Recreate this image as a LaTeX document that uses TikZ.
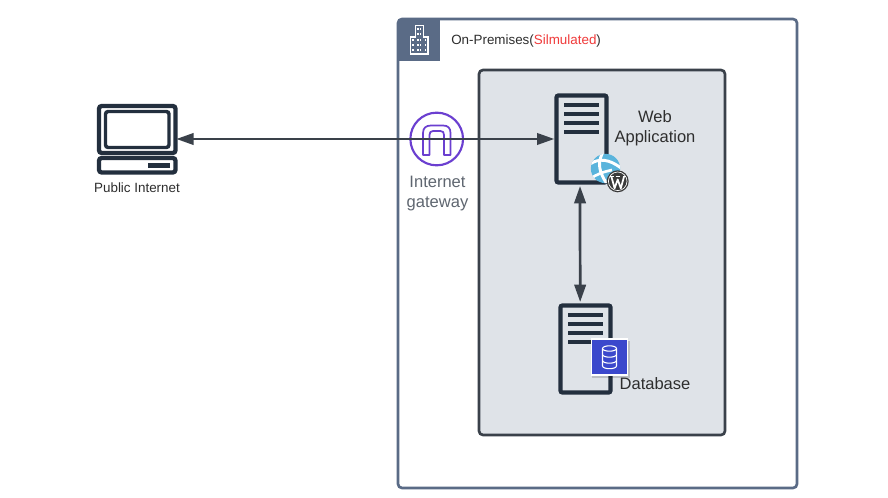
\documentclass[tikz,border=0pt]{standalone}
\usepackage{fontspec}
\setmainfont{Liberation Sans}
\usetikzlibrary{arrows.meta,calc}
\definecolor{frame}{HTML}{5A6B86}
\definecolor{panel}{HTML}{DFE3E8}
\definecolor{edge}{HTML}{3A414A}
\definecolor{ink}{HTML}{232F3E}
\definecolor{gw}{HTML}{6B3FD0}
\definecolor{graytxt}{HTML}{5F6670}
\definecolor{dbblue}{HTML}{3B48CC}
\definecolor{globe}{HTML}{5AB4DC}
\definecolor{wp}{HTML}{3A3A3A}
\definecolor{alert}{HTML}{F03A3A}
\tikzset{
  x=0.75pt,y=-0.75pt,
  outerbox/.style={draw=frame,line width=2pt,rounded corners=3pt,minimum width=299.25pt,minimum height=351.75pt,inner sep=0pt,fill=white},
  panelbox/.style={draw=edge,line width=2pt,rounded corners=3pt,fill=panel,minimum width=184.5pt,minimum height=273.75pt,inner sep=0pt},
  serverbox/.style={draw=ink,line width=3.2pt,rounded corners=1.5pt,minimum width=37.5pt,minimum height=65.25pt,inner sep=0pt},
  srvline/.style={draw=ink,line width=3pt},
  pcpart/.style={draw=ink,line width=3.2pt,rounded corners=2pt},
  link/.style={draw=edge,line width=2.05pt,{Triangle[length=13pt,width=8.5pt]}-{Triangle[length=13pt,width=8.5pt]}},
  lbl/.style={inner sep=0pt,text=black!82,align=center},
}
\begin{document}
\begin{tikzpicture}
\useasboundingbox[fill=white] (0,0) rectangle (888,498);
% frames
\node[outerbox] (outer) at (597.5,253.5) {};
\fill[frame,rounded corners=3pt] (398,45) -- (398,19) -- (420,19) -- (420,45) -- cycle;
\fill[frame] (410,19) rectangle (440,61);
\fill[frame] (398,35) rectangle (412,61);
\node[panelbox] (panel) at (602,252.5) {};
% building icon
\draw[white,line width=0.9pt] (410.7,54) -- (410.7,37) -- (415.3,37) -- (415.3,25.5) -- (423.3,25.5) -- (423.3,37) -- (428,37) -- (428,54) -- cycle;
\foreach \yy in {29,34,40.3,45.3,50.3}{\draw[white,line width=1.1pt] (418.2,\yy-1.2) -- (418.2,\yy+1.2) (420.4,\yy-1.2) -- (420.4,\yy+1.2);}
\foreach \yy in {40.3,45.3,50.3}{\draw[white,line width=1.1pt] (413.2,\yy-1.2) -- (413.2,\yy+1.2) (425.4,\yy-1.2) -- (425.4,\yy+1.2);}
\node[lbl,anchor=west,font=\fontsize{10.05pt}{12pt}\selectfont] (title) at (451,41) {On-Premises({\color{alert}Silmulated})};
% computer
\node[minimum width=58.5pt,minimum height=51pt,inner sep=0pt] (pc) at (137,139) {};
\draw[pcpart] (99,106) rectangle (175.5,153);
\draw[pcpart,line width=2.6pt] (105.5,111.5) rectangle (169,147.5);
\draw[pcpart] (99,158) rectangle (175.5,172.5);
\fill[ink] (148,163) rectangle (170,168);
\node[lbl,font=\fontsize{10.05pt}{12pt}\selectfont] (pclabel) at (137,187.5) {Public Internet};
% gateway
\node[draw=gw,line width=1.6pt,circle,minimum size=39.5pt,inner sep=0pt,fill=white] (gate) at (436.7,139) {};
\draw[gw,line width=1.3pt,line join=round] (423,155) -- (423,133) .. controls (423,128) and (426,125.5) .. (431,125.5) -- (443,125.5) .. controls (448,125.5) and (450.5,128) .. (450.5,133) -- (450.5,155) -- (444,155) -- (444,135) .. controls (444,132.5) and (443,131) .. (440.5,131) -- (433,131) .. controls (430.5,131) and (429.5,132.5) .. (429.5,135) -- (429.5,155) -- cycle;
\node[lbl,text=graytxt,font=\fontsize{12.4pt}{15pt}\selectfont] (gatelabel) at (437.5,193.5) {Internet\\gateway};
% web server
\node[serverbox] (web) at (581.5,139) {};
\foreach \yy in {105,114,123,132}{\draw[srvline] (564,\yy) -- (599,\yy);}
\node[lbl,font=\fontsize{12.4pt}{15pt}\selectfont] (weblabel) at (655,128) {Web\\Application};
% globe
\node[circle,fill=globe,minimum size=22pt,inner sep=0pt] (globeicon) at (605.5,168.5) {};
\begin{scope}
\clip (605.5,168.5) circle (14.7);
\draw[white,line width=2.2pt] (603,152) .. controls (597,163) and (599,172) .. (607,184);
\draw[white,line width=2.2pt] (590,164) .. controls (599,158) and (609,159) .. (621,168);
\draw[white,line width=2pt] (590,179) .. controls (597,174) and (603,172) .. (612,170);
\end{scope}
% wordpress badge
\node[circle,fill=wp,minimum size=16.5pt,inner sep=0pt] (wpicon) at (617.7,181.3) {};
\draw[white,line width=0.5pt] (617.7,181.3) circle (9.3);
\draw[white,line width=1.3pt,line join=round] (611.3,176.3) -- (614.6,188.3) -- (617.7,179.5) -- (620.8,188.3) -- (624.1,176.3);
\draw[white,line width=0.8pt] (609.5,176.3) -- (614,176.3) (615.5,176.3) -- (619.5,176.3) (622.5,176.3) -- (625.5,176.3);
% database server
\node[serverbox] (db) at (585.5,349) {};
\foreach \yy in {315,324,333,342}{\draw[srvline] (568,\yy) -- (603,\yy);}
\fill[black,opacity=.16] (592,341) rectangle (630,378);
\node[draw=white,line width=1.2pt,fill=dbblue,minimum size=27pt,inner sep=0pt] (dbicon) at (609.5,357) {};
\draw[white,line width=0.8pt] (602.5,348.5) -- (602.5,366) arc[start angle=180,end angle=360,x radius=7,y radius=-2.7] -- (616.5,348.5) (602.5,348.5) arc[start angle=180,end angle=-180,x radius=7,y radius=2.7];
\draw[white,line width=0.8pt] (602.5,354.5) arc[start angle=180,end angle=360,x radius=7,y radius=-2.7] (602.5,360.5) arc[start angle=180,end angle=360,x radius=7,y radius=-2.7];
\node[lbl,font=\fontsize{12.4pt}{15pt}\selectfont] (dblabel) at (655,383.5) {Database};
% connectors
\draw[link] (pc.east) -- (web.west);
\draw[link] ([xshift=-1.1pt,yshift=-1pt]web.south) -- ([xshift=-4pt,yshift=1pt]db.north);
\end{tikzpicture}
\end{document}
